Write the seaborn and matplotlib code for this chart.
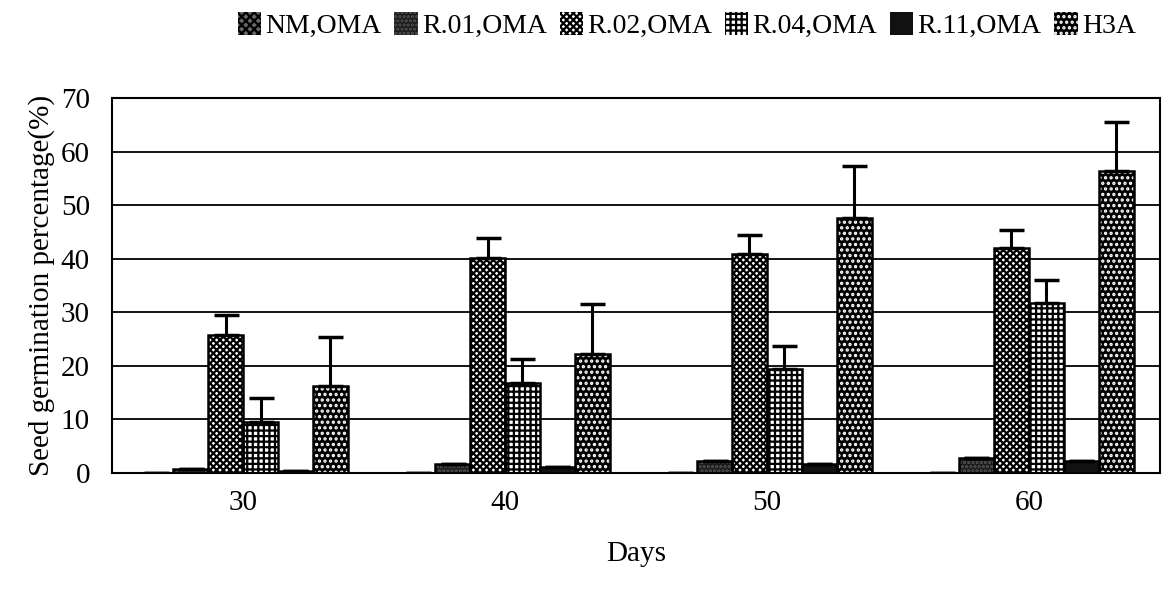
import pandas as pd
import matplotlib.pyplot as plt
import seaborn as sns

#values
days = ['30', '40', '50', '60']
treatments = ['NM,OMA', 'R.01,OMA', 'R.02,OMA', 'R.04,OMA', 'R.11,OMA', 'H3A']
nm = [0, 0, 0, 0]
r01 = [0.7, 1.6, 2.2, 2.8]
r02 = [25.8, 40.2, 40.9, 42.0]
r04 = [9.5, 16.8, 19.5, 31.8]
r11 = [0.4, 1.1, 1.6, 2.3]
h3a = [16.2, 22.2, 47.7, 56.4]
nm_err = [0, 0, 0, 0]
r01_err = [0, 0, 0, 0]
r02_err = [3.7, 3.7, 3.6, 3.4]
r04_err = [4.5, 4.5, 4.3, 4.3]
r11_err = [0, 0, 0, 0]
h3a_err = [9.2, 9.3, 9.6, 9.2]

vals = [nm, r01, r02, r04, r11, h3a]
errs = [nm_err, r01_err, r02_err, r04_err, r11_err, h3a_err]

rows = []
for t, v in zip(treatments, vals):
    for d, y in zip(days, v):
        rows.append({'Days': d, 'Treatment': t, 'Value': y})
data = pd.DataFrame(rows)

sns.set_style('white')
plt.rcParams['font.family'] = ['Liberation Serif', 'DejaVu Serif']
plt.rcParams['hatch.linewidth'] = 1.6
plt.rcParams['text.color'] = 'black'
plt.rcParams['xtick.color'] = 'black'
plt.rcParams['ytick.color'] = 'black'
plt.rcParams['axes.labelcolor'] = 'black'

fig = plt.figure(figsize=(11.68, 5.98), dpi=100)
ax = fig.add_axes([0.096, 0.209, 0.897, 0.627])

sns.barplot(data=data, x='Days', y='Value', hue='Treatment', errorbar=None,
            width=0.8, ax=ax, legend=False)

#face, hatch colour, hatch pattern for each treatment
styles = [('#666666', 'black', 'xxxx'),
          ('#1a1a1a', '#555555', '....'),
          ('white', 'black', 'xxxxx'),
          ('white', 'black', '+++'),
          ('#111111', '#111111', ''),
          ('black', 'white', '...')]

handles = []
for cont, (fc, hc, h), err, t in zip(ax.containers, styles, errs, treatments):
    xs = []
    for p in cont.patches:
        p.set_facecolor(fc)
        p.set_edgecolor(hc)
        p.set_hatch(h)
        p.set_linewidth(0)
        xs.append(p.get_x() + p.get_width() / 2)
        # black outline on top
        ax.bar(p.get_x(), p.get_height(), width=p.get_width(), align='edge',
               fill=False, edgecolor='black', linewidth=1.8, zorder=3)
    ys = [p.get_height() for p in cont.patches]
    ax.errorbar(xs, ys, yerr=[[0] * len(err), err], fmt='none', ecolor='black',
                elinewidth=2.2, capsize=9, capthick=2.5, zorder=4)
    handles.append(plt.Rectangle((0, 0), 1, 1, facecolor=fc, edgecolor=hc, hatch=h,
                                 linewidth=0, label=t))

ax.set_ylim(0, 70)
ax.set_yticks(range(0, 71, 10))
ax.set_xlim(-0.5, 3.5)
ax.set_xticks([0.5, 1.5, 2.5], minor=True)
ax.tick_params(axis='x', which='major', length=0, pad=12, labelsize=21)
ax.tick_params(axis='x', which='minor', length=6, direction='in', width=1.2)
ax.tick_params(axis='y', labelsize=21, length=0, pad=16)
ax.yaxis.grid(True, color='black', linewidth=1.3)
ax.set_axisbelow(True)
for s in ax.spines.values():
    s.set_color('black')
    s.set_linewidth(1.5)

ax.set_xlabel('Days', fontsize=21, labelpad=18)
ax.set_ylabel('Seed germination percentage(%)', fontsize=21, labelpad=4)

fig.legend(handles=handles, loc='upper center', bbox_to_anchor=(0.588, 1.003), ncol=6,
           frameon=False, fontsize=20, handlelength=0.85, handleheight=0.9,
           handletextpad=0.15, columnspacing=0.45, borderaxespad=0.1)

plt.savefig('out.png', dpi=100)
